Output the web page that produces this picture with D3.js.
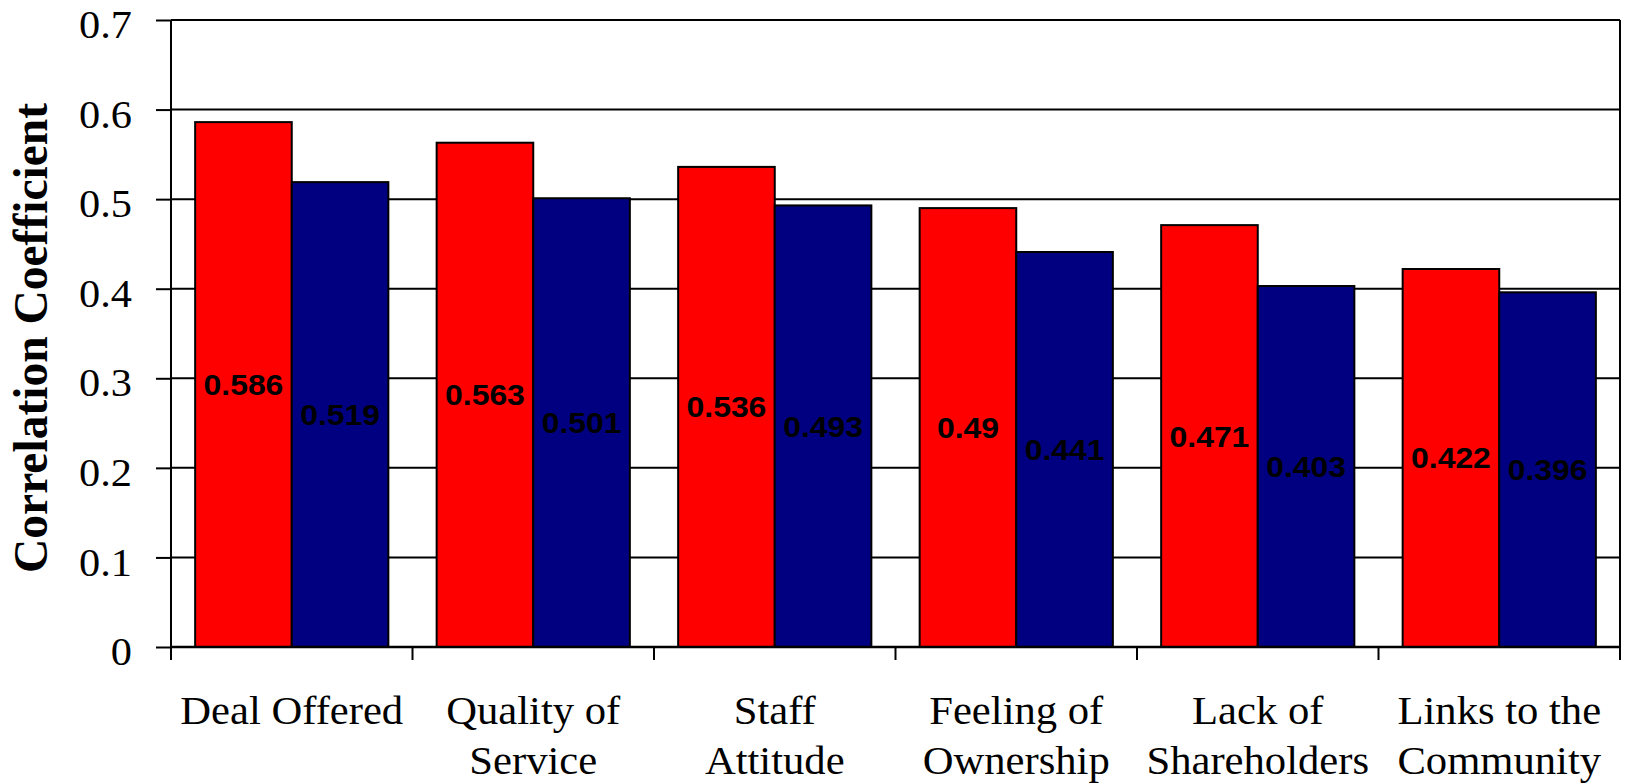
<!DOCTYPE html>
<html>
<head>
<meta charset="utf-8">
<script src="https://cdn.jsdelivr.net/npm/d3@7"></script>
<style>
  html, body { margin: 0; padding: 0; background: #fff; }
  svg { display: block; }
</style>
</head>
<body>
<svg id="chart" width="1625" height="784"></svg>
<script>
// Factors and their correlation coefficients for the two groups
const categories = [
  "Deal Offered",
  "Quality of\nService",
  "Staff\nAttitude",
  "Feeling of\nOwnership",
  "Lack of\nShareholders",
  "Links to the\nCommunity"
];
const seriesA = [0.586, 0.563, 0.536, 0.49, 0.471, 0.422];
const seriesB = [0.519, 0.501, 0.493, 0.441, 0.403, 0.396];
const yTicks = [0, 0.1, 0.2, 0.3, 0.4, 0.5, 0.6, 0.7];
const yTickLabels = ["0", "0.1", "0.2", "0.3", "0.4", "0.5", "0.6", "0.7"];
const yTitle = "Correlation Coefficient";

const colors = ["#FF0000", "#000080"];

const margin = { left: 171, top: 20, right: 5, bottom: 137 };
const W = 1625, H = 784;
const plotW = W - margin.left - margin.right;
const plotH = H - margin.top - margin.bottom;

const serif = "'Liberation Serif', 'Times New Roman', serif";
const sans = "'Liberation Sans', Arial, sans-serif";

const svg = d3.select("#chart");
const g = svg.append("g").attr("transform", `translate(${margin.left},${margin.top})`);

const x0 = d3.scaleBand().domain(categories).range([0, plotW]).padding(0);
const x1 = d3.scaleBand().domain([0, 1])
  .range([x0.bandwidth() * 0.1, x0.bandwidth() * 0.9]).padding(0);
const y = d3.scaleLinear().domain([0, 0.7]).range([plotH, 0]);

// Value axis: short ticks left of the axis, labels slightly widened
const yAxis = d3.axisLeft(y).tickValues(yTicks)
  .tickFormat((d, i) => yTickLabels[i])
  .tickSize(15).tickPadding(24);
const yg = g.append("g").call(yAxis);
yg.select(".domain").remove();
yg.selectAll(".tick line").attr("stroke", "#000").attr("stroke-width", 2);
yg.selectAll(".tick text").each(function () {
  const t = d3.select(this);
  const xPos = +t.attr("x");
  t.attr("x", 0).attr("dy", null).attr("y", null)
    .attr("transform", `translate(${xPos},4) scale(1.06,1)`)
    .attr("dominant-baseline", "central")
    .attr("font-family", serif).attr("font-size", 40).attr("fill", "#000");
});

// Horizontal gridlines
g.append("g").selectAll("line").data(yTicks.filter(d => d > 0)).join("line")
  .attr("x1", 0).attr("x2", plotW)
  .attr("y1", d => y(d)).attr("y2", d => y(d))
  .attr("stroke", "#000").attr("stroke-width", 2);

// Bars
const groups = g.append("g").selectAll("g").data(categories).join("g")
  .attr("transform", d => `translate(${x0(d)},0)`);

const series = [seriesA, seriesB];
groups.each(function (cat, ci) {
  const grp = d3.select(this);
  series.forEach((vals, si) => {
    grp.append("rect")
      .attr("x", x1(si)).attr("width", x1.bandwidth())
      .attr("y", y(vals[ci])).attr("height", y(0) - y(vals[ci]))
      .attr("fill", colors[si]).attr("stroke", "#000").attr("stroke-width", 2);
  });
  series.forEach((vals, si) => {
    const cx = x1(si) + x1.bandwidth() / 2;
    const cy = (y(vals[ci]) + y(0)) / 2;
    grp.append("text")
      .attr("transform", `translate(${cx},${cy}) scale(1.1,1)`)
      .attr("dy", "0.36em")
      .attr("text-anchor", "middle")
      .attr("font-family", sans)
      .attr("font-weight", "bold").attr("font-size", 29).attr("fill", "#000")
      .text(vals[ci]);
  });
});

// Plot frame: left axis and right border
g.append("line").attr("x1", 0).attr("x2", 0).attr("y1", 0).attr("y2", plotH)
  .attr("stroke", "#000").attr("stroke-width", 2);
g.append("line").attr("x1", plotW).attr("x2", plotW).attr("y1", 0).attr("y2", plotH)
  .attr("stroke", "#000").attr("stroke-width", 2);

// Category axis with ticks at the group boundaries
const bounds = categories.map(c => x0(c)).concat([plotW]);
const xg = g.append("g").attr("transform", `translate(0,${plotH})`);
xg.append("line").attr("x1", 0).attr("x2", plotW)
  .attr("stroke", "#000").attr("stroke-width", 2.5);
xg.selectAll(".bt").data(bounds).join("line").attr("class", "bt")
  .attr("x1", d => d).attr("x2", d => d).attr("y1", 0).attr("y2", 13)
  .attr("stroke", "#000").attr("stroke-width", 2);

xg.selectAll(".cat").data(categories).join("text").attr("class", "cat")
  .attr("text-anchor", "middle")
  .attr("transform", d => `translate(${x0(d) + x0.bandwidth() / 2},0) scale(1.04,1)`)
  .attr("font-family", serif)
  .attr("font-size", 41).attr("fill", "#000")
  .each(function (d) {
    const t = d3.select(this);
    d.split("\n").forEach((line, i) => {
      t.append("tspan")
        .attr("x", 0)
        .attr("y", 77 + i * 50)
        .text(line);
    });
  });

// Y axis title
svg.append("text")
  .attr("transform", `translate(47,338) rotate(-90)`)
  .attr("text-anchor", "middle")
  .attr("font-family", serif)
  .attr("font-weight", "bold").attr("font-size", 47.5).attr("fill", "#000")
  .text(yTitle);
</script>
</body>
</html>
